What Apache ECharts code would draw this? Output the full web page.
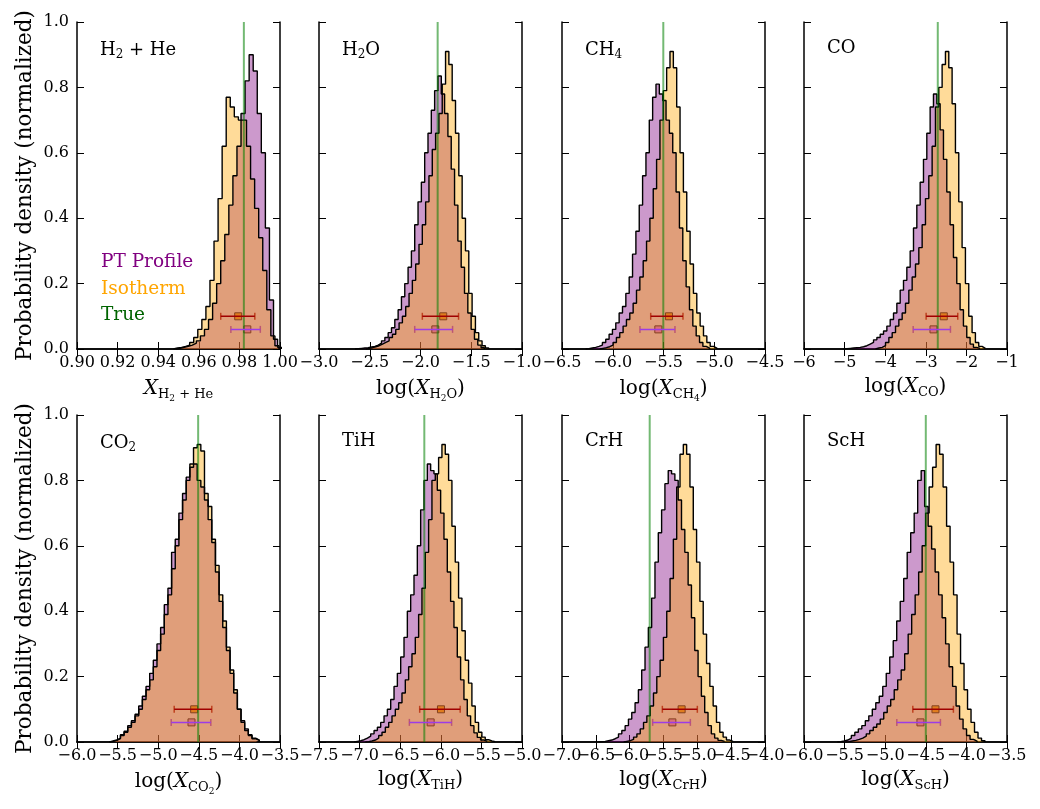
<!DOCTYPE html>
<html>
<head>
<meta charset="utf-8">
<script src="https://cdn.jsdelivr.net/npm/echarts@6.0.0/dist/echarts.min.js"></script>
<style>
  html, body { margin: 0; background: #fff; }
  #chart { width: 1040px; height: 809px; }
</style>
</head>
<body>
<div id="chart"></div>
<script>
// x axes of the 8 panels
const xMin = [0.90, -3.0, -6.5, -6, -6.0, -7.5, -7.0, -6.0]
const xMax = [1.00, -1.0, -4.5, -1, -3.5, -5.0, -4.0, -3.5]
const xStep = [0.02, 0.5, 0.5, 1, 0.5, 0.5, 0.5, 0.5]
const xDigits = [2, 1, 1, 0, 1, 1, 1, 1]

// histogram bins (left edge, bin width)
const ptStart = [0.9488, -2.6455, -6.267, -5.025, -5.6, -7.068, -6.459, -5.589]
const ptWidth = [0.002, 0.0327, 0.033, 0.082, 0.045, 0.041, 0.049, 0.043]
const isoStart = [0.9475, -2.538, -6.129, -4.238, -5.6, -6.929, -6.089, -5.491]
const isoWidth = [0.002, 0.0327, 0.033, 0.082, 0.045, 0.041, 0.049, 0.043]

// PT profile retrieval histograms
const ptH2He = [0.002,0.005,0.008,0.012,0.018,0.025,0.04,0.06,0.09,0.14,0.20,0.27,0.35,0.44,0.53,0.62,0.72,0.82,0.90,0.85,0.72,0.60,0.37,0.15,0.03,0.005]
const ptH2O = [0.001,0.002,0.003,0.004,0.006,0.008,0.012,0.018,0.025,0.035,0.05,0.065,0.09,0.12,0.16,0.20,0.25,0.30,0.38,0.45,0.51,0.60,0.66,0.73,0.79,0.835,0.78,0.72,0.65,0.55,0.44,0.33,0.25,0.17,0.11,0.06,0.03,0.012,0.004]
const ptCH4 = [0.001,0.003,0.005,0.008,0.012,0.02,0.03,0.045,0.06,0.08,0.11,0.13,0.17,0.22,0.29,0.36,0.44,0.53,0.60,0.70,0.77,0.81,0.78,0.76,0.70,0.66,0.60,0.48,0.37,0.27,0.19,0.12,0.07,0.04,0.02,0.008,0.003]
const ptCO = [0.001,0.002,0.003,0.004,0.005,0.007,0.01,0.015,0.02,0.028,0.035,0.045,0.055,0.07,0.09,0.11,0.14,0.18,0.21,0.25,0.30,0.37,0.44,0.51,0.58,0.66,0.74,0.78,0.75,0.67,0.58,0.48,0.38,0.28,0.20,0.12,0.07,0.035,0.015,0.005,0.002]
const ptCO2 = [0.003,0.006,0.012,0.022,0.033,0.05,0.065,0.085,0.11,0.14,0.17,0.21,0.25,0.30,0.35,0.42,0.47,0.58,0.62,0.70,0.76,0.81,0.84,0.85,0.80,0.78,0.74,0.68,0.61,0.52,0.43,0.35,0.28,0.21,0.15,0.10,0.065,0.04,0.022,0.012,0.006]
const ptTiH = [0.002,0.004,0.007,0.012,0.018,0.025,0.035,0.045,0.06,0.08,0.10,0.13,0.17,0.21,0.26,0.32,0.40,0.45,0.51,0.60,0.71,0.80,0.85,0.83,0.82,0.77,0.70,0.62,0.52,0.43,0.35,0.26,0.19,0.13,0.08,0.05,0.028,0.014,0.006,0.002]
const ptCrH = [0.001,0.002,0.004,0.006,0.01,0.015,0.025,0.035,0.05,0.07,0.09,0.12,0.16,0.22,0.29,0.35,0.44,0.55,0.64,0.71,0.79,0.83,0.82,0.80,0.74,0.65,0.58,0.48,0.38,0.28,0.20,0.14,0.09,0.05,0.025,0.012,0.005,0.002]
const ptScH = [0.001,0.003,0.006,0.012,0.02,0.03,0.04,0.05,0.065,0.08,0.10,0.12,0.14,0.17,0.21,0.26,0.31,0.37,0.43,0.50,0.58,0.64,0.70,0.80,0.83,0.72,0.66,0.59,0.52,0.45,0.38,0.30,0.23,0.17,0.11,0.07,0.04,0.02,0.008,0.003]

// isothermal retrieval histograms
const isoH2He = [0.003,0.005,0.008,0.012,0.02,0.035,0.06,0.09,0.13,0.21,0.33,0.46,0.62,0.77,0.74,0.71,0.70,0.70,0.62,0.52,0.43,0.34,0.24,0.12,0.04,0.01]
const isoH2O = [0.002,0.004,0.007,0.01,0.015,0.02,0.025,0.035,0.045,0.06,0.08,0.10,0.13,0.17,0.21,0.26,0.32,0.38,0.45,0.53,0.61,0.66,0.72,0.81,0.91,0.87,0.76,0.66,0.53,0.40,0.30,0.17,0.10,0.05,0.025,0.01,0.003]
const isoCH4 = [0.002,0.004,0.007,0.012,0.02,0.035,0.05,0.07,0.09,0.11,0.14,0.18,0.22,0.27,0.33,0.40,0.49,0.58,0.70,0.79,0.86,0.91,0.86,0.74,0.60,0.48,0.36,0.26,0.17,0.11,0.07,0.04,0.02,0.008,0.003]
const isoCO = [0.003,0.005,0.01,0.02,0.035,0.05,0.07,0.09,0.11,0.14,0.18,0.22,0.26,0.31,0.38,0.46,0.53,0.62,0.74,0.80,0.87,0.91,0.86,0.75,0.60,0.45,0.31,0.20,0.10,0.05,0.02,0.008,0.002]
const isoCO2 = [0.002,0.005,0.01,0.02,0.03,0.045,0.06,0.08,0.10,0.13,0.16,0.19,0.23,0.28,0.33,0.39,0.45,0.53,0.60,0.68,0.74,0.80,0.85,0.90,0.91,0.89,0.76,0.72,0.62,0.54,0.45,0.37,0.29,0.22,0.16,0.10,0.06,0.035,0.02,0.01,0.005]
const isoTiH = [0.001,0.003,0.006,0.012,0.02,0.03,0.045,0.06,0.08,0.10,0.12,0.15,0.19,0.23,0.27,0.32,0.39,0.47,0.58,0.68,0.80,0.82,0.87,0.91,0.88,0.80,0.66,0.55,0.44,0.34,0.25,0.18,0.11,0.06,0.03,0.015,0.007,0.003,0.001]
const isoCrH = [0.002,0.004,0.008,0.015,0.025,0.04,0.06,0.08,0.11,0.15,0.20,0.25,0.32,0.40,0.50,0.62,0.78,0.88,0.91,0.88,0.78,0.65,0.55,0.43,0.33,0.24,0.17,0.11,0.06,0.03,0.015,0.006,0.002]
const isoScH = [0.001,0.003,0.005,0.008,0.012,0.018,0.025,0.035,0.045,0.055,0.07,0.09,0.11,0.13,0.16,0.19,0.22,0.27,0.33,0.39,0.45,0.52,0.60,0.70,0.78,0.84,0.91,0.88,0.78,0.66,0.55,0.45,0.33,0.24,0.16,0.10,0.06,0.03,0.012,0.004]

const ptHists = [ptH2He, ptH2O, ptCH4, ptCO, ptCO2, ptTiH, ptCrH, ptScH]
const isoHists = [isoH2He, isoH2O, isoCH4, isoCO, isoCO2, isoTiH, isoCrH, isoScH]

// true values and median / 1-sigma ranges
const trueVal = [0.9822, -1.831, -5.502, -2.705, -4.508, -6.203, -5.704, -4.5]
const isoMed = [0.9794, -1.776, -5.446, -2.557, -4.557, -5.998, -5.232, -4.381]
const isoLo = [0.9708, -1.982, -5.626, -2.992, -4.803, -6.260, -5.517, -4.66]
const isoHi = [0.9876, -1.625, -5.308, -2.213, -4.340, -5.761, -5.0, -4.16]
const ptMed = [0.9839, -1.854, -5.551, -2.811, -4.590, -6.125, -5.369, -4.566]
const ptLo = [0.9758, -2.057, -5.732, -3.311, -4.840, -6.387, -5.66, -4.857]
const ptHi = [0.9903, -1.684, -5.387, -2.393, -4.352, -5.867, -5.103, -4.32]
const isoBarY = 0.1
const ptBarY = 0.06

// labels
const panelLabels = [
  '{m|H}{s|2}{m| + He}', '{m|H}{s|2}{m|O}', '{m|CH}{s|4}', '{m|CO}',
  '{m|CO}{s|2}', '{m|TiH}', '{m|CrH}', '{m|ScH}'
]
const axisNames = [
  '{x|X}{s|H}{ss|2}{s| + He}',
  '{n|log(}{x|X}{s|H}{ss|2}{s|O}{n|)}',
  '{n|log(}{x|X}{s|CH}{ss|4}{n|)}',
  '{n|log(}{x|X}{s|CO}{n|)}',
  '{n|log(}{x|X}{s|CO}{ss|2}{n|)}',
  '{n|log(}{x|X}{s|TiH}{n|)}',
  '{n|log(}{x|X}{s|CrH}{n|)}',
  '{n|log(}{x|X}{s|ScH}{n|)}'
]

const serif = '"DejaVu Serif", serif'
const colLeft = [77, 319, 562, 804]
const rowTop = [22, 415]
const W = 203
const H = 327

function steps(start, w, h) {
  const pts = [[start, 0]]
  h.forEach((v, i) => {
    pts.push([start + i * w, v], [start + (i + 1) * w, v])
  })
  pts.push([start + h.length * w, 0])
  return pts
}

const grid = [], xAxis = [], yAxis = [], series = [], title = []
const frame = { show: true, lineStyle: { color: '#000', width: 1.5 } }
const tick = { show: true, inside: true, length: 7, lineStyle: { color: '#000', width: 1 } }
const plain = { fontFamily: serif, color: '#000', fontWeight: 'normal' }

// tick labels are split over two bottom axes (even / odd ticks) so that
// crowded neighbours are all drawn, touching as in the original
function tickLabel(i, parity) {
  return v => {
    const k = Math.round((v - xMin[i]) / xStep[i])
    if (k % 2 !== parity) return ''
    return v.toFixed(xDigits[i]).replace('-', '\u2212')
  }
}

for (let i = 0; i < 8; i++) {
  const col = i % 4, row = Math.floor(i / 4)
  grid.push({ left: colLeft[col], top: rowTop[row], width: W, height: H, containLabel: false })
  const labelStyle = {
    show: true, margin: 6, showMinLabel: true, showMaxLabel: true, hideOverlap: false,
    fontFamily: serif, fontSize: 16, color: '#000'
  }
  // 3 x-axes per panel: bottom (frame, ticks, even labels, name), top frame, odd labels
  xAxis.push({
    type: 'value', gridIndex: i, position: 'bottom',
    min: xMin[i], max: xMax[i], interval: xStep[i],
    axisLine: frame, axisTick: tick, splitLine: { show: false },
    axisLabel: { ...labelStyle, formatter: tickLabel(i, 0) },
    name: axisNames[i], nameLocation: 'middle', nameGap: 25,
    nameTextStyle: {
      ...plain,
      rich: {
        n: { ...plain, fontSize: 20 },
        x: { ...plain, fontSize: 20, fontStyle: 'italic' },
        s: { ...plain, fontSize: 13, padding: [12, 0, 0, 0] },
        ss: { ...plain, fontSize: 9, padding: [20, 0, 0, 0] }
      }
    }
  })
  xAxis.push({
    type: 'value', gridIndex: i, position: 'top',
    min: xMin[i], max: xMax[i], interval: xStep[i],
    axisLine: frame, axisTick: tick, axisLabel: { show: false }, splitLine: { show: false }
  })
  xAxis.push({
    type: 'value', gridIndex: i, position: 'bottom',
    min: xMin[i], max: xMax[i], interval: xStep[i],
    axisLine: { show: false }, axisTick: { show: false }, splitLine: { show: false },
    axisLabel: { ...labelStyle, formatter: tickLabel(i, 1) }
  })
  yAxis.push({
    type: 'value', gridIndex: i, position: 'left', min: 0, max: 1, interval: 0.2,
    axisLine: frame, axisTick: tick, splitLine: { show: false },
    axisLabel: {
      show: col === 0, margin: 8, fontFamily: serif, fontSize: 16, color: '#000',
      formatter: v => v.toFixed(1)
    },
    name: col === 0 ? 'Probability density (normalized)' : '',
    nameLocation: 'middle', nameGap: 41,
    nameTextStyle: { ...plain, fontSize: 21.5 }
  })
  yAxis.push({
    type: 'value', gridIndex: i, position: 'right', min: 0, max: 1, interval: 0.2,
    axisLine: frame, axisTick: tick, axisLabel: { show: false }, splitLine: { show: false }
  })

  const xi = 3 * i, yi = 2 * i
  const hist = (start, w, h, fill) => ({
    type: 'line', xAxisIndex: xi, yAxisIndex: yi, data: steps(start, w, h),
    showSymbol: false, symbol: 'none', silent: true, clip: true,
    lineStyle: { color: '#000', width: 1.4 },
    areaStyle: { color: fill, opacity: 1 }
  })
  series.push(hist(ptStart[i], ptWidth[i], ptHists[i], 'rgba(128,0,128,0.4)'))
  series.push(hist(isoStart[i], isoWidth[i], isoHists[i], 'rgba(255,165,0,0.4)'))
  series.push({
    type: 'line', xAxisIndex: xi, yAxisIndex: yi, data: [[trueVal[i], 0], [trueVal[i], 1]],
    symbol: 'none', silent: true, lineStyle: { color: 'rgba(0,128,0,0.55)', width: 2 }
  })
  const bar = (lo, hi, med, y, lineColor, fill) => {
    series.push({
      type: 'line', xAxisIndex: xi, yAxisIndex: yi, data: [[lo, y], [hi, y]],
      symbol: 'none', silent: true, lineStyle: { color: lineColor, width: 1.5 }
    })
    series.push({
      type: 'scatter', xAxisIndex: xi, yAxisIndex: yi, data: [[lo, y], [hi, y]],
      symbol: 'rect', symbolSize: [1.5, 7], silent: true,
      itemStyle: { color: lineColor, opacity: 1 }
    })
    series.push({
      type: 'scatter', xAxisIndex: xi, yAxisIndex: yi, data: [[med, y]],
      symbol: 'rect', symbolSize: 7, silent: true,
      itemStyle: { color: fill, borderColor: '#000', borderWidth: 1, opacity: 1 }
    })
  }
  bar(isoLo[i], isoHi[i], isoMed[i], isoBarY, '#a00000', '#ffa500')
  bar(ptLo[i], ptHi[i], ptMed[i], ptBarY, '#9c3ce6', '#ee82ee')

  title.push({
    text: panelLabels[i], left: colLeft[col] + 18, top: rowTop[row] + 12,
    textStyle: {
      ...plain,
      rich: {
        m: { ...plain, fontSize: 18 },
        s: { ...plain, fontSize: 12, padding: [10, 0, 0, 0] }
      }
    }
  })
}

title.push({
  text: '{p|PT Profile}\n{o|Isotherm}\n{g|True}',
  left: 96, top: 244,
  textStyle: {
    ...plain,
    rich: {
      p: { ...plain, fontSize: 18.5, color: '#800080', lineHeight: 26.5 },
      o: { ...plain, fontSize: 18.5, color: '#ffa500', lineHeight: 26.5 },
      g: { ...plain, fontSize: 18.5, color: '#006400', lineHeight: 26.5 }
    }
  }
})

const chart = echarts.init(document.getElementById('chart'))
chart.setOption({
  animation: false,
  backgroundColor: '#fff',
  title: title,
  grid: grid,
  xAxis: xAxis,
  yAxis: yAxis,
  series: series
})
</script>
</body>
</html>
